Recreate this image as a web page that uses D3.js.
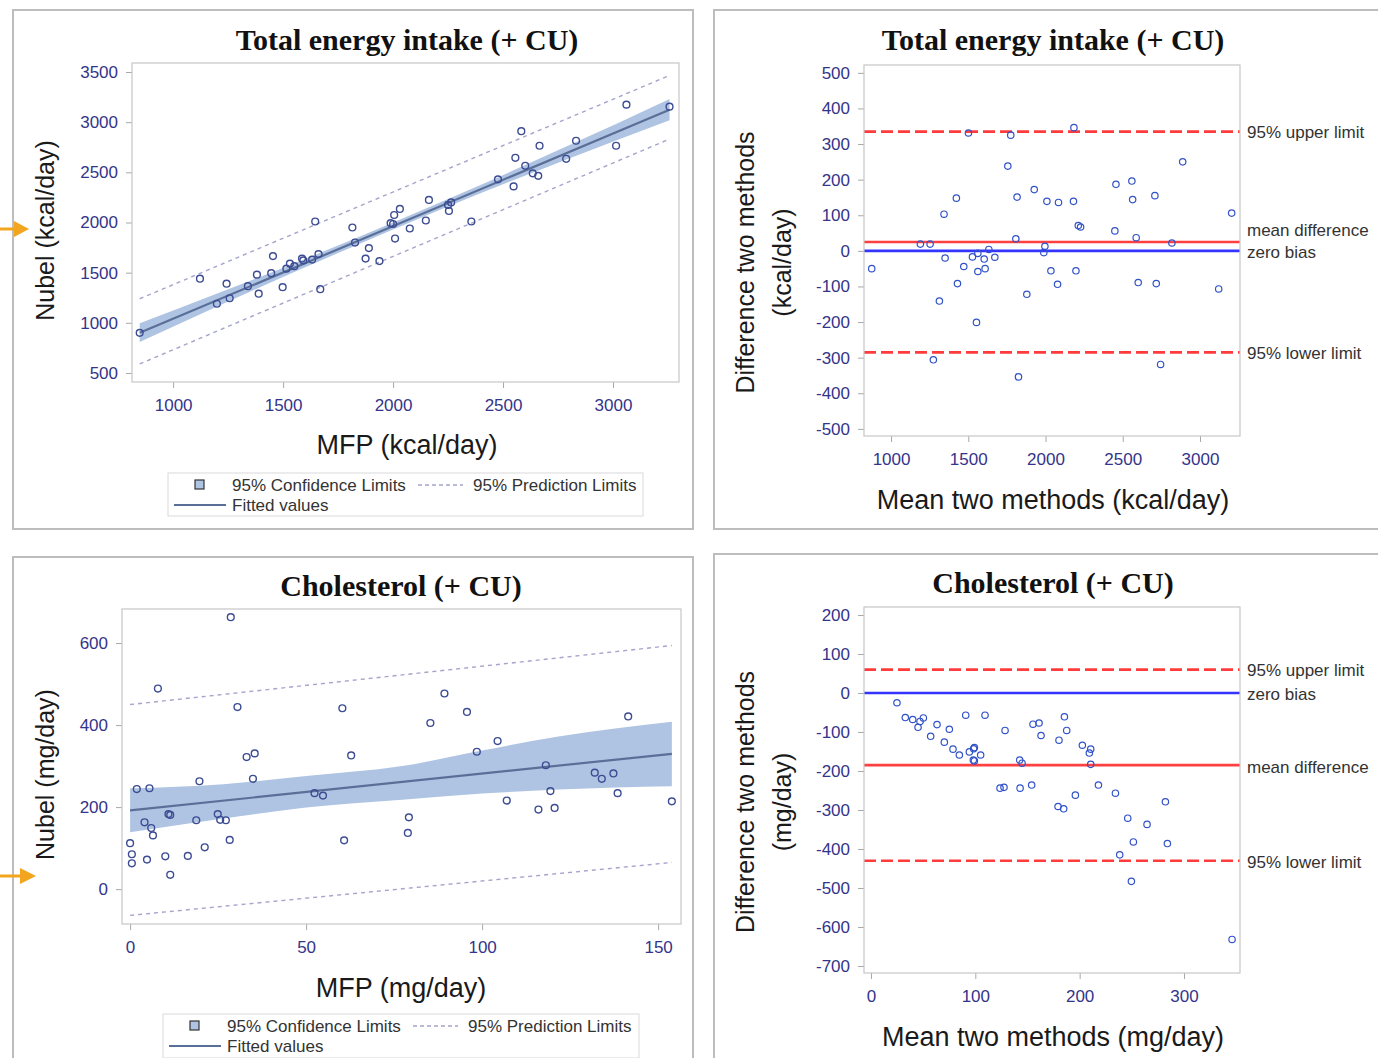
<!DOCTYPE html>
<html>
<head>
<meta charset="utf-8">
<script src="https://cdn.jsdelivr.net/npm/d3@7"></script>
<style>
body { margin: 0; background: #fff; }
</style>
</head>
<body>
<svg id="chart" width="1378" height="1058"></svg>
<script>
// ---- energy: MFP vs Nubel (kcal/day) ----
var energyMfp = [848, 1122, 1199, 1243, 1257, 1340, 1381, 1389, 1446, 1454, 1498, 1515, 1531, 1551, 1586, 1592,
  1632, 1646, 1661, 1669, 1815, 1827, 1875, 1890, 1938, 1989, 2000, 2005, 2009, 2031, 2076, 2149, 2163,
  2250, 2254, 2264, 2356, 2477, 2548, 2556, 2583, 2601, 2635, 2660, 2666, 2787, 2832, 3014, 3061, 3257];
var energyNubel = [900, 1440, 1190, 1390, 1245, 1365, 1480, 1290, 1495, 1665, 1355, 1540, 1590, 1565, 1640, 1622,
  1630, 2010, 1685, 1335, 1950, 1800, 1640, 1745, 1615, 1993, 1985, 2075, 1840, 2135, 1940, 2020, 2225,
  2175, 2115, 2200, 2010, 2430, 2360, 2645, 2910, 2565, 2490, 2465, 2765, 2635, 2815, 2765, 3175, 3155];
var energyFitX = [848, 3257];
var energyFitY = [900, 3125];
var energyCiX = [848, 1200, 1600, 2000, 2400, 2800, 3257];
var energyCiLo = [808, 1162, 1553, 1930, 2293, 2639, 3020];
var energyCiHi = [995, 1291, 1637, 2000, 2377, 2769, 3232];
var energyPiX = [848, 3257];
var energyPiLo = [590, 2832];
var energyPiHi = [1240, 3466];

// ---- energy: Bland-Altman ----
var energyMean = [875, 1190, 1253, 1274, 1313, 1343, 1350, 1423, 1430, 1471, 1501, 1527, 1553, 1562, 1562, 1603, 1609,
  1633, 1672, 1756, 1775, 1808, 1816, 1825, 1879, 1927, 1989, 1996, 2009, 2035, 2078, 2084, 2181, 2184,
  2197, 2212, 2227, 2449, 2456, 2559, 2564, 2587, 2600, 2708, 2717, 2745, 2818, 2888, 3121, 3205];
var energyDiff = [-50, 19, 19, -306, -141, 103, -20, 148, -92, -44, 331, -17, -201, -7, -58, -23, -50,
  4, -18, 238, 325, 34, 151, -354, -122, 172, -5, 13, 139, -56, -94, 136, 139, 346,
  -56, 71, 67, 56, 187, 196, 144, 37, -89, 155, -92, -319, 22, 250, -107, 106];
var energyLimits = [335, 25, 0, -285]; // upper, mean, zero, lower

// ---- cholesterol: MFP vs Nubel (mg/day) ----
var cholMfp = [0, 0.5, 0.5, 1.9, 4.1, 4.8, 5.5, 6.0, 6.5, 7.9, 10.0, 10.9, 11.4, 11.4, 16.4, 18.8, 19.7, 21.2,
  24.9, 25.6, 27.2, 28.3, 28.6, 30.5, 33.1, 34.9, 35.4, 52.4, 54.8, 60.3, 60.8, 62.8, 78.9, 79.2, 85.3,
  89.3, 95.7, 98.5, 104.4, 107.0, 116.0, 118.1, 119.4, 120.6, 132.0, 134.0, 137.3, 138.5, 141.5, 153.9];
var cholNubel = [112, 85, 63, 244, 163, 72, 246, 149, 131, 489, 80, 183, 181, 35, 81, 168, 263, 102,
  183, 169, 168, 120, 663, 444, 322, 269, 331, 234, 228, 441, 119, 326, 137, 175, 405,
  477, 432, 335, 361, 216, 194, 302, 239, 198, 284, 269, 282, 234, 421, 214];
var cholFitX = [0, 153.9];
var cholFitY = [192, 330];
var cholCiX = [0, 26.5, 50, 77.3, 100, 121.7, 153.9];
var cholCiLo = [139, 172, 199, 218, 233, 243, 251];
var cholCiHi = [246, 256, 276, 300, 338, 372, 408];
var cholPiX = [0, 153.9];
var cholPiLo = [-64, 65];
var cholPiHi = [450, 594];

// ---- cholesterol: Bland-Altman ----
var cholMean = [24.9, 32.9, 40.0, 45.1, 47.0, 50.2, 57.2, 63.3, 70.3, 75.1, 78.6, 84.7, 90.8, 94.3, 98.4, 99.1, 98.1,
  99.1, 105.1, 109.3, 123.7, 127.5, 128.5, 142.5, 144.8, 142.9, 154.0, 155.3, 161.1, 163.0, 180.2, 179.3,
  184.7, 185.4, 187.6, 195.9, 202.6, 210.6, 209.3, 210.6, 218.0, 234.3, 246.1, 238.4, 251.5, 249.6,
  264.6, 282.2, 284.1, 346.1];
var cholDiff = [-25, -63, -68, -88, -73, -64, -111, -81, -126, -93, -144, -159, -57, -151, -143, -140, -172,
  -174, -159, -57, -244, -242, -96, -172, -180, -244, -236, -80, -77, -109, -121, -291,
  -297, -61, -96, -262, -134, -144, -154, -183, -236, -257, -321, -415, -382, -483,
  -337, -279, -386, -632];
var cholLimits = [60, -185, 0, -430];

var limitNames = ["95% upper limit", "mean difference", "zero bias", "95% lower limit"];

// axis ticks and ranges
var energyTicksX = [1000, 1500, 2000, 2500, 3000];
var energyTicksY = [500, 1000, 1500, 2000, 2500, 3000, 3500];
var energyDiffTicksY = [-500, -400, -300, -200, -100, 0, 100, 200, 300, 400, 500];
var cholTicksX = [0, 50, 100, 150];
var cholTicksY = [0, 200, 400, 600];
var cholMeanTicksX = [0, 100, 200, 300];
var cholDiffTicksY = [-700, -600, -500, -400, -300, -200, -100, 0, 100, 200];

var sans = "'Liberation Sans', Arial, sans-serif";
var serif = "'Liberation Serif', 'Times New Roman', serif";
var tickColor = "#34348a";
var plain = function(d) { return String(d); }; // keeps "-100" with a plain hyphen, no thousands comma

var svg = d3.select("#chart");

function panelBox(x, y, w, h) {
    svg.append("rect").attr("x", x).attr("y", y).attr("width", w).attr("height", h)
        .attr("fill", "none").attr("stroke", "#bdbdbd").attr("stroke-width", 2);
}

function title(txt, cx, by) {
    svg.append("text").attr("x", cx).attr("y", by).attr("text-anchor", "middle")
        .attr("font-family", serif).attr("font-weight", "bold").attr("font-size", 30)
        .attr("fill", "#111").text(txt);
}

function axes(x, y, xTicks, yTicks) {
    var bottom = y.range()[0], left = x.range()[0];
    var ax = svg.append("g").attr("transform", "translate(0," + bottom + ")")
        .call(d3.axisBottom(x).tickValues(xTicks).tickFormat(plain).tickSize(6).tickPadding(11));
    var ay = svg.append("g").attr("transform", "translate(" + left + ",0)")
        .call(d3.axisLeft(y).tickValues(yTicks).tickFormat(plain).tickSize(6).tickPadding(8));
    [ax, ay].forEach(function(a) {
        a.select(".domain").remove();
        a.attr("font-family", sans).attr("font-size", 17);
        a.selectAll("line").attr("stroke", "#a8a8a8");
        a.selectAll("text").attr("fill", tickColor);
    });
    svg.append("rect").attr("x", left).attr("y", y.range()[1])
        .attr("width", x.range()[1] - left).attr("height", bottom - y.range()[1])
        .attr("fill", "none").attr("stroke", "#c6c6c6").attr("stroke-width", 1.2);
}

function axisLabel(txt, x, y, rotate) {
    var t = svg.append("text").attr("text-anchor", "middle").attr("dominant-baseline", "central")
        .attr("font-family", sans).attr("font-size", rotate ? 25 : 27).attr("fill", "#1a1a1a").text(txt);
    if (rotate) t.attr("transform", "translate(" + x + "," + y + ") rotate(-90)");
    else t.attr("x", x).attr("y", y);
}

function clipRect(id, x, y) {
    svg.append("clipPath").attr("id", id).append("rect")
        .attr("x", x.range()[0]).attr("y", y.range()[1])
        .attr("width", x.range()[1] - x.range()[0]).attr("height", y.range()[0] - y.range()[1]);
}

function regressionPanel(o) {
    var x = d3.scaleLinear().domain(o.xDomain).range([o.plot[0], o.plot[2]]);
    var y = d3.scaleLinear().domain(o.yDomain).range([o.plot[3], o.plot[1]]);
    clipRect(o.id, x, y);
    var g = svg.append("g").attr("clip-path", "url(#" + o.id + ")");

    var band = d3.area().curve(d3.curveMonotoneX)
        .x(function(d, i) { return x(o.ciX[i]); })
        .y0(function(d, i) { return y(o.ciLo[i]); })
        .y1(function(d, i) { return y(o.ciHi[i]); });
    g.append("path").datum(o.ciX).attr("d", band).attr("fill", "#afc4e3");

    var line = d3.line().x(function(d) { return x(d[0]); }).y(function(d) { return y(d[1]); });
    [o.piLo, o.piHi].forEach(function(arr) {
        g.append("path").datum(d3.zip(o.piX, arr)).attr("d", line)
            .attr("fill", "none").attr("stroke", "#a4a4cc").attr("stroke-width", 1.4)
            .attr("stroke-dasharray", "4,4");
    });
    g.append("path").datum(d3.zip(o.fitX, o.fitY)).attr("d", line)
        .attr("fill", "none").attr("stroke", "#5a6f98").attr("stroke-width", 2.2);

    g.selectAll("circle.pt").data(d3.zip(o.xs, o.ys)).enter().append("circle")
        .attr("cx", function(d) { return x(d[0]); }).attr("cy", function(d) { return y(d[1]); })
        .attr("r", 3.4).attr("fill", "none").attr("stroke", "#3c4c92").attr("stroke-width", 1.4);

    axes(x, y, o.xTicks, o.yTicks);
    title(o.title, o.titleX, o.titleY);
    axisLabel(o.xLabel, o.titleX, o.xLabelY, false);
    axisLabel(o.yLabel, 45, (o.plot[1] + o.plot[3]) / 2 + 8, true);

    // legend
    var lg = svg.append("g").attr("transform", "translate(" + o.legend[0] + "," + o.legend[1] + ")");
    lg.append("rect").attr("width", o.legend[2]).attr("height", o.legend[3])
        .attr("fill", "#fff").attr("stroke", "#d9d9d9");
    lg.append("rect").attr("x", 27).attr("y", 7).attr("width", 9).attr("height", 9)
        .attr("fill", "#afc4e3").attr("stroke", "#333").attr("stroke-width", 1.2);
    lg.append("line").attr("x1", 250).attr("x2", 295).attr("y1", 12).attr("y2", 12)
        .attr("stroke", "#a4a4cc").attr("stroke-width", 1.3).attr("stroke-dasharray", "4,3");
    lg.append("line").attr("x1", 6).attr("x2", 58).attr("y1", 32).attr("y2", 32)
        .attr("stroke", "#5a6f98").attr("stroke-width", 2);
    var items = [["95% Confidence Limits", 64, 12], ["95% Prediction Limits", 305, 12], ["Fitted values", 64, 32]];
    items.forEach(function(it) {
        lg.append("text").attr("x", it[1]).attr("y", it[2]).attr("dominant-baseline", "central")
            .attr("font-family", sans).attr("font-size", 17).attr("fill", "#333").text(it[0]);
    });
}

function agreementPanel(o) {
    var x = d3.scaleLinear().domain(o.xDomain).range([o.plot[0], o.plot[2]]);
    var y = d3.scaleLinear().domain(o.yDomain).range([o.plot[3], o.plot[1]]);
    var styles = [
        { stroke: "#ff3b3b", dash: "12,5" },
        { stroke: "#ff4040", dash: null },
        { stroke: "#3434ff", dash: null },
        { stroke: "#ff3b3b", dash: "12,5" }
    ];
    o.limits.forEach(function(v, i) {
        var l = svg.append("line").attr("x1", x.range()[0]).attr("x2", x.range()[1])
            .attr("y1", y(v)).attr("y2", y(v))
            .attr("stroke", styles[i].stroke).attr("stroke-width", 2.6);
        if (styles[i].dash) l.attr("stroke-dasharray", styles[i].dash);
        svg.append("text").attr("x", x.range()[1] + 7).attr("y", y(v) + o.labelShift[i])
            .attr("dominant-baseline", "central").attr("font-family", sans)
            .attr("font-size", 17).attr("fill", "#333").text(limitNames[i]);
    });
    svg.selectAll(null).data(d3.zip(o.xs, o.ys)).enter().append("circle")
        .attr("cx", function(d) { return x(d[0]); }).attr("cy", function(d) { return y(d[1]); })
        .attr("r", 3.2).attr("fill", "none").attr("stroke", "#3152c9").attr("stroke-width", 1.2);

    axes(x, y, o.xTicks, o.yTicks);
    title(o.title, o.titleX, o.titleY);
    axisLabel(o.xLabel, o.titleX, o.xLabelY, false);
    var cy = (o.plot[1] + o.plot[3]) / 2 + 12;
    axisLabel("Difference two methods", 745, cy, true);
    axisLabel(o.unit, 782, cy, true);
}

// outer panel borders
panelBox(13, 10, 680, 519);
panelBox(714, 10, 700, 519);
panelBox(13, 557, 680, 520);
panelBox(714, 554, 700, 520);

regressionPanel({
    id: "c1", plot: [132, 63, 679, 382], xDomain: [813, 3300], yDomain: [410, 3590],
    xTicks: energyTicksX, yTicks: energyTicksY,
    xs: energyMfp, ys: energyNubel, fitX: energyFitX, fitY: energyFitY,
    ciX: energyCiX, ciLo: energyCiLo, ciHi: energyCiHi,
    piX: energyPiX, piLo: energyPiLo, piHi: energyPiHi,
    title: "Total energy intake (+ CU)", titleX: 407, titleY: 50,
    xLabel: "MFP (kcal/day)", xLabelY: 445, yLabel: "Nubel (kcal/day)",
    legend: [168, 473, 475, 43]
});

agreementPanel({
    plot: [864, 65, 1240, 436], xDomain: [825, 3259], yDomain: [-520, 522],
    xTicks: energyTicksX, yTicks: energyDiffTicksY,
    xs: energyMean, ys: energyDiff, limits: energyLimits, labelShift: [1, -11, 2, 1],
    title: "Total energy intake (+ CU)", titleX: 1053, titleY: 50,
    xLabel: "Mean two methods (kcal/day)", xLabelY: 500, unit: "(kcal/day)"
});

regressionPanel({
    id: "c3", plot: [122, 609, 681, 924], xDomain: [-2.3, 156.5], yDomain: [-85, 683],
    xTicks: cholTicksX, yTicks: cholTicksY,
    xs: cholMfp, ys: cholNubel, fitX: cholFitX, fitY: cholFitY,
    ciX: cholCiX, ciLo: cholCiLo, ciHi: cholCiHi,
    piX: cholPiX, piLo: cholPiLo, piHi: cholPiHi,
    title: "Cholesterol (+ CU)", titleX: 401, titleY: 596,
    xLabel: "MFP (mg/day)", xLabelY: 988, yLabel: "Nubel (mg/day)",
    legend: [163, 1014, 476, 44]
});

agreementPanel({
    plot: [864, 607, 1240, 973], xDomain: [-6.7, 353.7], yDomain: [-718, 220.5],
    xTicks: cholMeanTicksX, yTicks: cholDiffTicksY,
    xs: cholMean, ys: cholDiff, limits: cholLimits, labelShift: [1, 2, 2, 2],
    title: "Cholesterol (+ CU)", titleX: 1053, titleY: 593,
    xLabel: "Mean two methods (mg/day)", xLabelY: 1037, unit: "(mg/day)"
});

// orange pointer arrows on the left edge
[[229, 14, 29], [876, 20, 36]].forEach(function(a) {
    svg.append("line").attr("x1", 0).attr("x2", a[1] + 2).attr("y1", a[0]).attr("y2", a[0])
        .attr("stroke", "#f2a51f").attr("stroke-width", 3);
    svg.append("path")
        .attr("d", "M" + a[1] + "," + (a[0] - 8) + "L" + a[2] + "," + a[0] + "L" + a[1] + "," + (a[0] + 8) + "Z")
        .attr("fill", "#f2a51f");
});
</script>
</body>
</html>
